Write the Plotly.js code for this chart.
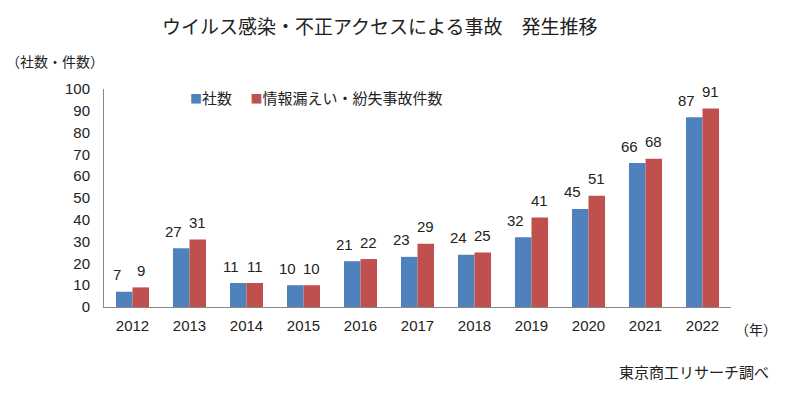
<!DOCTYPE html>
<html><head><meta charset="utf-8">
<script src="https://cdn.plot.ly/plotly-3.0.1.min.js"></script>
<style>body{margin:0;background:#fff}#c{width:800px;height:397px}</style>
</head><body><div id="c"></div>
<script>
const years = ['2012','2013','2014','2015','2016','2017','2018','2019','2020','2021','2022'];
const companies = [7,27,11,10,21,23,24,32,45,66,87];
const incidents = [9,31,11,10,22,29,25,41,51,68,91];
const seriesNames = ['社数','情報漏えい・紛失事故件数'];
const colors = ['#4F81BD','#C0504D'];
const yTicks = [0,10,20,30,40,50,60,70,80,90,100];

const jp = '"Noto Sans CJK JP", "Liberation Sans", sans-serif';
const num = '"Liberation Sans", Arial, sans-serif';

const traces = [
  {type:'bar', x:years, y:companies, name:seriesNames[0], marker:{color:colors[0]}, showlegend:false},
  {type:'bar', x:years, y:incidents, name:seriesNames[1], marker:{color:colors[1]}, showlegend:false}
];

const labelAnn = [];
years.forEach((yr,i)=>{
  labelAnn.push({x:i, y:companies[i], xref:'x', yref:'y', text:String(companies[i]), showarrow:false,
    xshift:-16, yshift:17, yanchor:'middle', xanchor:'center', font:{family:num,size:15,color:'#222'}});
  labelAnn.push({x:i, y:incidents[i], xref:'x', yref:'y', text:String(incidents[i]), showarrow:false,
    xshift:8, yshift:17, yanchor:'middle', xanchor:'center', font:{family:num,size:15,color:'#222'}});
});

const legendText = '<span style="color:'+colors[0]+';font-size:12px">■</span>'+seriesNames[0]+
  '　 <span style="color:'+colors[1]+';font-size:12px">■</span>'+seriesNames[1];

const layout = {
  width:800, height:397,
  margin:{l:104, r:69, t:89, b:90},
  paper_bgcolor:'#fff', plot_bgcolor:'#fff',
  barmode:'group', bargap:0.42, bargroupgap:0,
  showlegend:false,
  xaxis:{type:'category', range:[-0.5, years.length-0.5], showline:true, linecolor:'#888', linewidth:1, ticks:'',
    tickfont:{family:num,size:15,color:'#222'}, showgrid:false, fixedrange:true, ticklabelstandoff:5},
  yaxis:{range:[0,100], tickvals:yTicks, showline:true, linecolor:'#888', linewidth:1, ticks:'',
    tickfont:{family:num,size:15,color:'#222'}, showgrid:false, zeroline:false, ticklabelstandoff:10},
  annotations:labelAnn.concat([
    {text:'ウイルス感染・不正アクセスによる事故　発生推移', xref:'paper', yref:'paper', x:0.44, y:1, yshift:64,
     xanchor:'center', yanchor:'middle', showarrow:false, font:{family:jp,size:19,color:'#222'}},
    {text:'（社数・件数）', xref:'paper', yref:'paper', x:0, y:1, xshift:-100, yshift:28, xanchor:'left', yanchor:'middle',
     showarrow:false, font:{family:jp,size:14,color:'#222'}},
    {text:legendText, xref:'paper', yref:'paper', x:0, xshift:84, y:1, yshift:-8, xanchor:'left', yanchor:'middle',
     showarrow:false, font:{family:jp,size:15,color:'#222'}},
    {text:'（年）', xref:'paper', yref:'paper', x:1.0, y:0, yshift:-22, xshift:2, xanchor:'left', yanchor:'middle',
     showarrow:false, font:{family:jp,size:14,color:'#222'}},
    {text:'東京商工リサーチ調べ', xref:'paper', yref:'paper', x:1.0, y:0, yshift:-64, xshift:40, xanchor:'right', yanchor:'middle',
     showarrow:false, font:{family:jp,size:15,color:'#222'}}
  ])
};
Plotly.newPlot('c', traces, layout, {staticPlot:true, displayModeBar:false});
</script></body></html>
